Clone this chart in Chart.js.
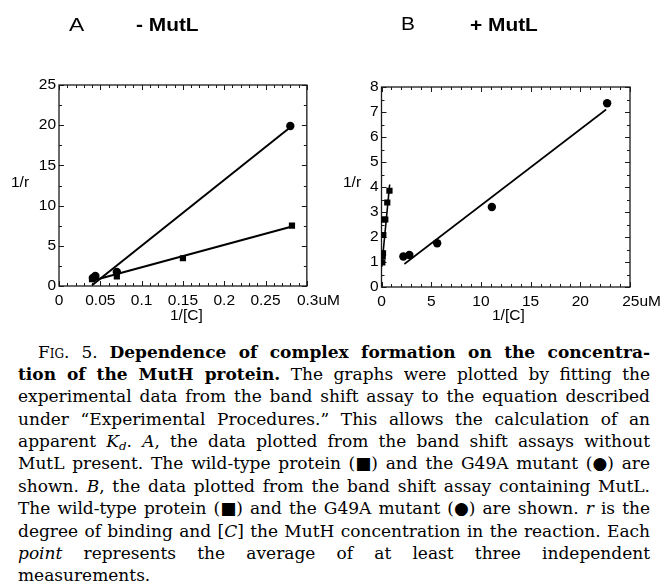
<!DOCTYPE html>
<html>
<head>
<meta charset="utf-8">
<script src="https://cdn.jsdelivr.net/npm/chart.js@4.4.0/dist/chart.umd.min.js"></script>
<style>
  html, body { margin:0; padding:0; background:#fff; }
  body { width:667px; height:584px; position:relative; overflow:hidden; font-family:"Liberation Sans", Arial, sans-serif; color:#000; }
  canvas { position:absolute; }
  .lbl { position:absolute; white-space:nowrap; font-size:15.5px; line-height:1; }
  .ttl { position:absolute; white-space:nowrap; line-height:1; transform-origin:left center; }
  #caption { position:absolute; left:18px; top:340.5px; width:632px; font-family:"DejaVu Serif", serif; font-size:17px; color:#000; }
  #caption .ln { height:22.4px; line-height:22.4px; white-space:nowrap; }
  #caption .ln span.t { display:inline-block; }
  #caption b { font-weight:bold; }
  #caption sub { font-size:0.7em; vertical-align:-0.25em; line-height:0; }
</style>
</head>
<body>
<canvas id="cA" width="345" height="340" style="left:0;top:0;width:345px;height:340px"></canvas>
<canvas id="cB" width="334" height="340" style="left:333px;top:0;width:334px;height:340px"></canvas>

<div class="ttl" style="left:69px;top:15px;font-size:19px;transform:scaleX(1.2)">A</div>
<div class="ttl" style="left:136px;top:16px;font-size:18px;font-weight:bold;transform:scaleX(1.16)">- MutL</div>
<div class="ttl" style="left:401px;top:14px;font-size:19px;transform:scaleX(1.1)">B</div>
<div class="ttl" style="left:470px;top:16px;font-size:18px;font-weight:bold;transform:scaleX(1.16)">+ MutL</div>

<div class="lbl" style="left:11px;top:174px">1/r</div>
<div class="lbl" style="left:343px;top:174px">1/r</div>
<div class="lbl" style="left:170px;top:307px">1/[C]</div>
<div class="lbl" style="left:492px;top:307px">1/[C]</div>

<div id="caption">
  <div class="ln" style="padding-left:20px"><span class="t" data-w="612"><span style="font-variant:small-caps">Fig.</span> 5. <b>Dependence of complex formation on the concentra-</b></span></div>
  <div class="ln"><span class="t" data-w="632"><b>tion of the MutH protein.</b> The graphs were plotted by fitting the</span></div>
  <div class="ln"><span class="t" data-w="632">experimental data from the band shift assay to the equation described</span></div>
  <div class="ln"><span class="t" data-w="632">under “Experimental Procedures.” This allows the calculation of an</span></div>
  <div class="ln"><span class="t" data-w="632">apparent <i>K<sub>d</sub></i>. <i>A</i>, the data plotted from the band shift assays without</span></div>
  <div class="ln"><span class="t" data-w="632">MutL present. The wild-type protein (■) and the G49A mutant (●) are</span></div>
  <div class="ln"><span class="t" data-w="632">shown. <i>B</i>, the data plotted from the band shift assay containing MutL.</span></div>
  <div class="ln"><span class="t" data-w="632">The wild-type protein (■) and the G49A mutant (●) are shown. <i>r</i> is the</span></div>
  <div class="ln"><span class="t" data-w="632">degree of binding and [<i>C</i>] the MutH concentration in the reaction. Each</span></div>
  <div class="ln"><span class="t" data-w="632"><i>point</i> represents the average of at least three independent</span></div>
  <div class="ln"><span class="t">measurements.</span></div>
</div>

<script>
// ---------- Panel A (- MutL) ----------
const wtA_x   = [0.040, 0.070, 0.150, 0.282];
const wtA_y   = [0.85, 1.20, 3.45, 7.50];
const g49aA_x = [0.041, 0.044, 0.070, 0.280];
const g49aA_y = [1.00, 1.25, 1.75, 19.9];
const wtFitA_x   = [0.040, 0.282];
const wtFitA_y   = [0.65, 7.40];
const g49aFitA_x = [0.040, 0.280];
const g49aFitA_y = [0.10, 19.75];
const xTicksA = [0, 0.05, 0.1, 0.15, 0.2, 0.25, 0.3];
const yTicksA = [0, 5, 10, 15, 20, 25];

// ---------- Panel B (+ MutL) ----------
const wtB_x   = [0.08, 0.12, 0.15, 0.18, 0.20, 0.38, 0.58, 0.80];
const wtB_y   = [0.98, 1.22, 1.35, 2.08, 2.70, 2.70, 3.38, 3.85];
const g49aB_x = [2.2, 2.8, 5.6, 11.1, 22.7];
const g49aB_y = [1.22, 1.28, 1.75, 3.20, 7.35];
const wtFitB_x   = [0.02, 0.82];
const wtFitB_y   = [0.80, 4.10];
const g49aFitB_x = [2.3, 22.6];
const g49aFitB_y = [0.92, 7.10];
const xTicksB = [0, 5, 10, 15, 20, 25];
const yTicksB = [0, 1, 2, 3, 4, 5, 6, 7, 8];

const unitLabel = 'uM';

function pts(xs, ys) { return xs.map((x, i) => ({x: x, y: ys[i]})); }

// Box frame with inward major/minor ticks on all four sides
const boxTicks = {
  id: 'boxTicks',
  beforeDatasetsDraw(chart, args, o) {
    const {ctx, chartArea: a, scales: {x, y}} = chart;
    ctx.save();
    ctx.strokeStyle = '#1a1a1a';
    ctx.lineWidth = 1.3;
    ctx.strokeRect(a.left, a.top, a.right - a.left, a.bottom - a.top);
    ctx.lineWidth = 1;
    const draw = (scale, step, len, horiz) => {
      const n = Math.round((scale.max - scale.min) / step);
      for (let i = 0; i <= n; i++) {
        const v = scale.min + i * step;
        const p = Math.round(scale.getPixelForValue(v)) + 0.5;
        ctx.beginPath();
        if (horiz) {
          ctx.moveTo(p, a.bottom); ctx.lineTo(p, a.bottom - len);
          ctx.moveTo(p, a.top);    ctx.lineTo(p, a.top + len);
        } else {
          ctx.moveTo(a.left, p);  ctx.lineTo(a.left + len, p);
          ctx.moveTo(a.right, p); ctx.lineTo(a.right - len, p);
        }
        ctx.stroke();
      }
    };
    draw(x, o.xMinor, 3, true);
    draw(x, o.xMajor, 5, true);
    draw(y, o.yMinor, 3, false);
    draw(y, o.yMajor, 5, false);
    ctx.restore();
  }
};

function makeChart(id, c) {
  const tickFont = {family: '"Liberation Sans", Arial, sans-serif', size: 15.5};
  return new Chart(document.getElementById(id), {
    type: 'scatter',
    data: {
      datasets: [
        {data: pts(c.wtFitX, c.wtFitY), showLine: true, pointRadius: 0, borderColor: '#000', borderWidth: c.lw, fill: false},
        {data: pts(c.gFitX, c.gFitY), showLine: true, pointRadius: 0, borderColor: '#000', borderWidth: c.lw, fill: false},
        {data: pts(c.wtX, c.wtY), showLine: false, pointStyle: 'rect', pointRadius: 4.4, backgroundColor: '#000', borderColor: '#000', borderWidth: 0},
        {data: pts(c.gX, c.gY), showLine: false, pointStyle: 'circle', pointRadius: 4.2, backgroundColor: '#000', borderColor: '#000', borderWidth: 0}
      ]
    },
    options: {
      responsive: false,
      animation: false,
      events: [],
      layout: {padding: {top: c.padTop, right: c.padRight, left: 0, bottom: 0}},
      plugins: {
        legend: {display: false},
        tooltip: {enabled: false},
        boxTicks: c.ticks
      },
      scales: {
        x: {
          type: 'linear', min: c.xTicks[0], max: c.xTicks[c.xTicks.length - 1],
          grid: {display: false, drawTicks: false, tickLength: 0}, border: {display: false},
          afterBuildTicks: (s) => { s.ticks = c.xTicks.map(v => ({value: v})); },
          ticks: {
            color: '#000', font: tickFont, padding: 5, maxRotation: 0, autoSkip: false,
            callback: (v, i) => i === c.xTicks.length - 1 ? '\u2003\u2002' + String(v) + unitLabel : String(v)
          },
          afterFit: (s) => { s.height = c.xH; }
        },
        y: {
          type: 'linear', min: c.yTicks[0], max: c.yTicks[c.yTicks.length - 1],
          grid: {display: false, drawTicks: false, tickLength: 0}, border: {display: false},
          afterBuildTicks: (s) => { s.ticks = c.yTicks.map(v => ({value: v})); },
          ticks: {color: '#000', font: tickFont, padding: 3, autoSkip: false, callback: (v) => String(v)},
          afterFit: (s) => { s.width = c.yW; }
        }
      }
    },
    plugins: [boxTicks]
  });
}

makeChart('cA', {
  wtX: wtA_x, wtY: wtA_y, gX: g49aA_x, gY: g49aA_y,
  wtFitX: wtFitA_x, wtFitY: wtFitA_y, gFitX: g49aFitA_x, gFitY: g49aFitA_y,
  xTicks: xTicksA, yTicks: yTicksA, lw: 2,
  padTop: 85, padRight: 38, yW: 59, xH: 54,
  ticks: {xMinor: 0.01, xMajor: 0.05, yMinor: 2.5, yMajor: 5}
});

makeChart('cB', {
  wtX: wtB_x, wtY: wtB_y, gX: g49aB_x, gY: g49aB_y,
  wtFitX: wtFitB_x, wtFitY: wtFitB_y, gFitX: g49aFitB_x, gFitY: g49aFitB_y,
  xTicks: xTicksB, yTicks: yTicksB, lw: 1.6,
  padTop: 87, padRight: 37, yW: 48.5, xH: 53,
  ticks: {xMinor: 1, xMajor: 5, yMinor: 0.5, yMajor: 1}
});

// Justify caption lines to the original line breaks
function justify() {
  document.querySelectorAll('#caption span.t[data-w]').forEach(sp => {
    sp.style.wordSpacing = '0px';
    const target = parseFloat(sp.dataset.w);
    const w = sp.getBoundingClientRect().width;
    const n = (sp.textContent.match(/ /g) || []).length;
    if (n > 0) sp.style.wordSpacing = ((target - w) / n) + 'px';
  });
}
justify();
if (document.fonts && document.fonts.ready) document.fonts.ready.then(justify);
</script>
</body>
</html>
